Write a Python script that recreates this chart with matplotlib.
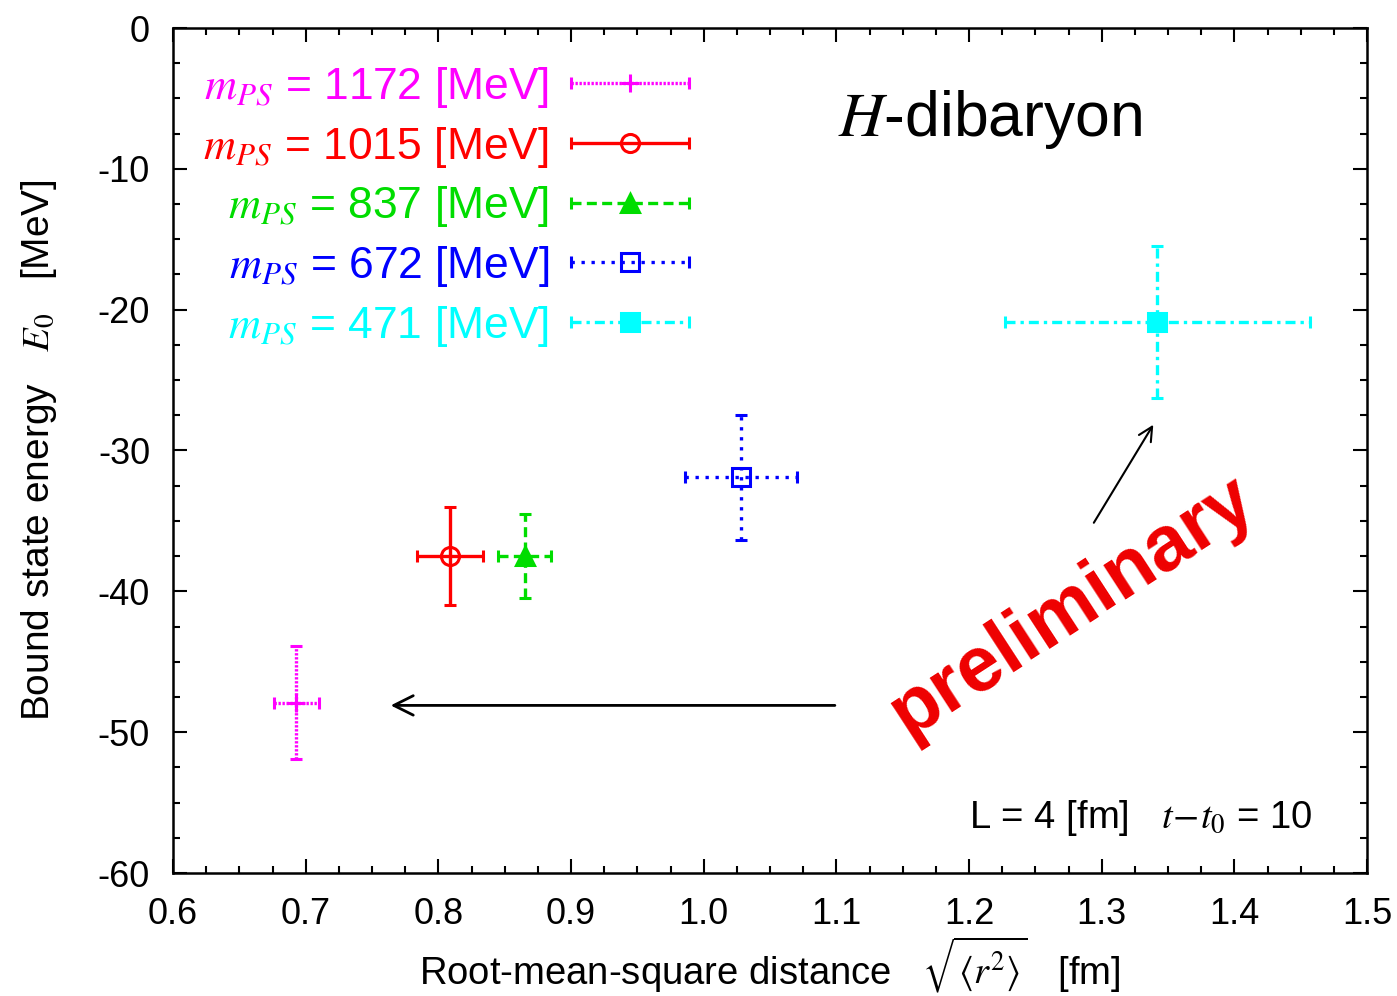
import numpy as np
import matplotlib
matplotlib.use("Agg")
import matplotlib.pyplot as plt
from matplotlib.legend_handler import HandlerErrorbar
from matplotlib.ticker import MultipleLocator

plt.rcParams['font.family'] = ['Liberation Sans', 'DejaVu Sans']
plt.rcParams['mathtext.fontset'] = 'stix'
plt.rcParams['axes.unicode_minus'] = False

# ---- data ----
labels = [r"$m_{PS}$ = 1172 [MeV]", r"$m_{PS}$ = 1015 [MeV]", r"$m_{PS}$ = 837 [MeV]",
          r"$m_{PS}$ = 672 [MeV]", r"$m_{PS}$ = 471 [MeV]"]
colors = ["#ff00ff", "#ff0000", "#00dd00", "#0000ff", "#00ffff"]
rms_x = [0.693, 0.809, 0.865, 1.028, 1.342]
rms_xerr = [0.017, 0.025, 0.020, 0.042, 0.115]
energy = [-47.9, -37.5, -37.5, -31.9, -20.9]
energy_err = [4.0, 3.5, 3.0, 4.45, 5.4]
markers = ['+', 'o', '^', 's', 's']
filled = [True, False, True, False, True]
styles = [(0, (0.7, 0.5)), '-', (0, (3, 1.6)), (0, (1, 2)), (0, (3, 1.5, 1, 1.5))]

fig = plt.figure(figsize=(13.97, 9.96), dpi=100)
ax = fig.add_axes([173/1397, 1-873/996, (1367-173)/1397, (873-28)/996])

proxies = []
for i in range(5):
    mfc = colors[i] if filled[i] else 'none'
    eb = ax.errorbar([rms_x[i]], [energy[i]], xerr=[rms_xerr[i]], yerr=[energy_err[i]],
                     fmt=markers[i], color=colors[i], mfc=mfc, mec=colors[i],
                     ms=13, mew=2.2, elinewidth=2.4, capsize=4, capthick=2.4)
    eb[2][0].set_linestyle(styles[i])
    eb[2][1].set_linestyle(styles[i])
    pr = ax.errorbar([np.nan], [np.nan], xerr=[0.1], fmt=markers[i], color=colors[i],
                     mfc=mfc, mec=colors[i], ms=13, mew=2.2, elinewidth=2.4,
                     capsize=4, capthick=2.4, label=labels[i])
    pr[2][0].set_linestyle(styles[i])
    proxies.append(pr)

fs_leg = 32
hl = 2.65
leg = ax.legend(handles=proxies, loc='upper right', bbox_to_anchor=(0.432, 0.9562),
                frameon=False, markerfirst=False, fontsize=fs_leg, handlelength=hl,
                handletextpad=0.5, labelspacing=0.33, borderpad=0, borderaxespad=0,
                handler_map={type(proxies[0]): HandlerErrorbar(xerr_size=hl/2, numpoints=1)})
for t, c in zip(leg.get_texts(), colors):
    t.set_color(c)

ax.set_xlim(0.6, 1.5)
ax.set_ylim(-60, 0)
ax.xaxis.set_minor_locator(MultipleLocator(0.025))
ax.yaxis.set_major_locator(MultipleLocator(10))
ax.yaxis.set_minor_locator(MultipleLocator(2.5))
ax.set_xticks(np.arange(0.6, 1.51, 0.1))
ax.set_xticklabels([f"{v:.1f}" for v in np.arange(0.6, 1.51, 0.1)])
ax.tick_params(which='both', direction='in', top=True, right=True, labelsize=26, width=1.5)
ax.tick_params(which='major', length=10)
ax.tick_params(axis='y', which='major', pad=16.5)
ax.tick_params(axis='x', which='major', pad=17)
ax.tick_params(which='minor', length=5)
for s in ax.spines.values():
    s.set_linewidth(1.8)

ax.set_xlabel(r"Root-mean-square distance   $\sqrt{\langle r^2\rangle}$   [fm]", fontsize=27.5, labelpad=2)
ax.set_ylabel(r"Bound state energy   $E_0$   [MeV]", fontsize=28, labelpad=28)

ax.text(1.216, -6.5, r"$H$-dibaryon", fontsize=45, ha='center', va='center')
ax.text(1.459, -56.1, r"L = 4 [fm]   $t\!-\!t_0$ = 10", fontsize=27.5, ha='right', va='center')

ax.text(1.278, -41.1, "preliminary", fontsize=56, fontweight='bold', color='#ee0000',
        rotation=33, ha='center', va='center', rotation_mode='anchor')
ax.annotate("", xy=(0.762, -48.1), xytext=(1.101, -48.1),
            arrowprops=dict(arrowstyle='->', lw=2, color='black', mutation_scale=35))
ax.annotate("", xy=(1.340, -28.0), xytext=(1.293, -35.3),
            arrowprops=dict(arrowstyle='->', lw=1.5, color='black', mutation_scale=25))

fig.savefig("out.png", dpi=100)
